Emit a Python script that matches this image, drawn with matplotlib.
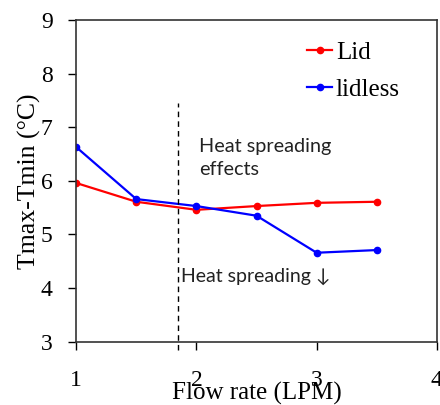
import matplotlib
matplotlib.use("Agg")
from matplotlib import pyplot as plt

# flow rate (LPM)
flow = [1, 1.5, 2, 2.5, 3, 3.5]
# Tmax - Tmin (C)
lid = [5.96, 5.61, 5.46, 5.53, 5.59, 5.61]
lidless = [6.63, 5.66, 5.53, 5.35, 4.66, 4.71]

serif = "Liberation Serif"
sans = ["Lato", "DejaVu Sans"]

fig = plt.figure(figsize=(4.4, 4.05), dpi=100)
ax = fig.add_axes([0.173, 0.156, 0.82, 0.795])

ax.plot(flow, lid, color="red", marker="o", ms=4.5, lw=1.6, label="Lid")
ax.plot(flow, lidless, color="blue", marker="o", ms=4.5, lw=1.6, label="lidless")

# dividing line
ax.plot([1.85, 1.85], [2.85, 7.45], ls=(0, (4, 3)), color="black", lw=1.0, clip_on=False)

ax.text(2.02, 6.42, "Heat spreading\neffects", fontsize=14.3, family=sans,
        va="center", ha="left", linespacing=1.4, color="#222222")
ax.text(1.87, 4.22, "Heat spreading \u2193", fontsize=14, family=sans,
        va="center", ha="left", color="#222222")

ax.set_xlim(1, 4)
ax.set_ylim(3, 9)
ax.set_xticks([1, 2, 3, 4])
ax.set_yticks([3, 4, 5, 6, 7, 8, 9])
ax.tick_params(labelsize=17, length=6, width=1, pad=11)
ax.tick_params(axis="x", pad=14)
ax.tick_params(right=False, top=False)
for lab in ax.get_xticklabels() + ax.get_yticklabels():
    lab.set_family(serif)
for s in ax.spines.values():
    s.set_linewidth(1.2)
    s.set_color("#333333")

ax.set_xlabel("Flow rate (LPM)", fontsize=18, family=serif, labelpad=-6)
ax.set_ylabel("Tmax-Tmin (\u00b0C)", fontsize=18.5, family=serif, labelpad=0)

ax.legend(loc="upper right", frameon=False, prop={"family": serif, "size": 18},
          handlelength=1.0, handletextpad=0.15, borderaxespad=0,
          bbox_to_anchor=(0.925, 0.965), labelspacing=0.6)

fig.savefig("out.png", dpi=100)
